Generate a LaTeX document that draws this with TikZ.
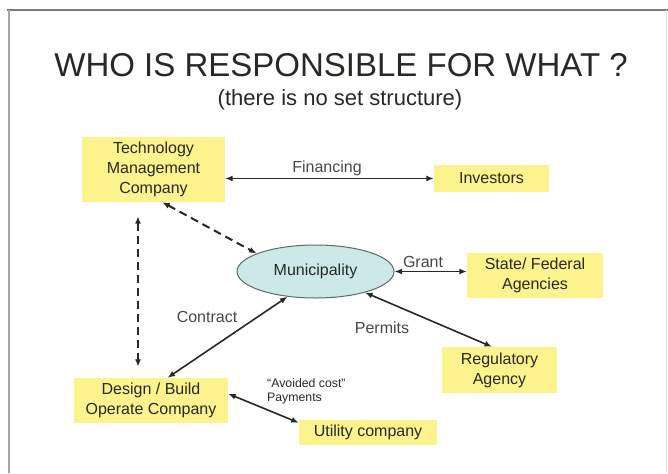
\documentclass[tikz,border=0pt]{standalone}
\usepackage{fontspec}
\setmainfont{Liberation Sans}
\usetikzlibrary{arrows.meta,shapes.geometric}
\definecolor{boxyellow}{RGB}{252,243,140}
\definecolor{munfill}{RGB}{204,232,232}
\definecolor{munline}{RGB}{95,105,105}
\definecolor{ink}{RGB}{40,40,36}
\definecolor{framegray}{RGB}{125,125,125}
\tikzset{
  rolebox/.style={fill=boxyellow, draw=none, align=center, text=ink,
    font=\fontsize{16}{20}\selectfont, inner sep=0pt},
  lbl/.style={text=ink!85, font=\fontsize{16}{18}\selectfont, inner sep=0pt},
  twoway/.style={{Latex[length=7.5pt,width=6pt]}-{Latex[length=7.5pt,width=6pt]},
    line width=1.6pt, draw=ink},
  twowaydash/.style={twoway, line width=2pt, dash pattern=on 8pt off 5pt}
}
\begin{document}
\begin{tikzpicture}[x=1pt,y=-1pt]
  \useasboundingbox (0,0) rectangle (668,473);
  \fill[white] (0,0) rectangle (668,473);
  % slide frame
  \draw[framegray, line width=1.5pt] (7,10) -- (668,10);
  \draw[black!35, line width=1.2pt] (9,10) -- (9,473);
  \draw[black!10, line width=1pt] (666,10) -- (666,473);

  % headings
  \node[text=ink, font=\fontsize{33}{36}\selectfont, inner sep=0pt] (title) at (341,65)
    {WHO IS RESPONSIBLE FOR WHAT ?};
  \node[text=ink, font=\fontsize{22}{24}\selectfont, inner sep=0pt] (sub) at (340,100)
    {(there is no set structure)};

  % parties
  \node[rolebox, minimum width=143pt, minimum height=65pt] (tmc) at (153.5,169.5)
    {Technology\\Management\\Company};
  \node[rolebox, minimum width=115pt, minimum height=27pt] (inv) at (491.5,178.5) {Investors};
  \node[ellipse, fill=munfill, draw=munline, line width=1pt, minimum width=157pt,
    minimum height=53pt, text=ink, font=\fontsize{16}{18}\selectfont, inner sep=0pt]
    (mun) at (315.5,271.5) {Municipality};
  \node[rolebox, minimum width=136pt, minimum height=45pt] (state) at (535,275.5)
    {State/ Federal\\Agencies};
  \node[rolebox, minimum width=115pt, minimum height=46pt] (reg) at (499.5,370)
    {Regulatory\\Agency};
  \node[rolebox, minimum width=154pt, minimum height=45pt] (des) at (151,400.5)
    {Design / Build\\Operate Company};
  \node[rolebox, minimum width=138pt, minimum height=25pt] (util) at (368,432.5)
    {Utility company};

  % relations
  \coordinate (vx) at (138,0);
  \draw[twoway] (tmc.east |- inv.west) -- (inv.west);
  \draw[twoway] (mun.east) -- (mun.east -| state.west);
  \draw[twoway] (mun.-23.5) -- (reg.108);
  \draw[twoway] (mun.-138) -- (des.54);
  \draw[twoway] (des.5.4) -- (util.172.3);
  \draw[twowaydash] (tmc.-75) -- (mun.163);
  \draw[twowaydash, shorten <=14pt, shorten >=11pt] (tmc.south -| vx) -- (des.north -| vx);

  % relation labels
  \node[lbl] (fin) at (327,168) {Financing};
  \node[lbl] (grant) at (423,262) {Grant};
  \node[lbl] (perm) at (382,328) {Permits};
  \node[lbl] (contr) at (207,317) {Contract};
  \node[text=ink, font=\fontsize{12.3}{14}\selectfont, align=left, anchor=west, inner sep=0pt]
    (pay) at (267,391) {“Avoided cost”\\Payments};
\end{tikzpicture}
\end{document}
